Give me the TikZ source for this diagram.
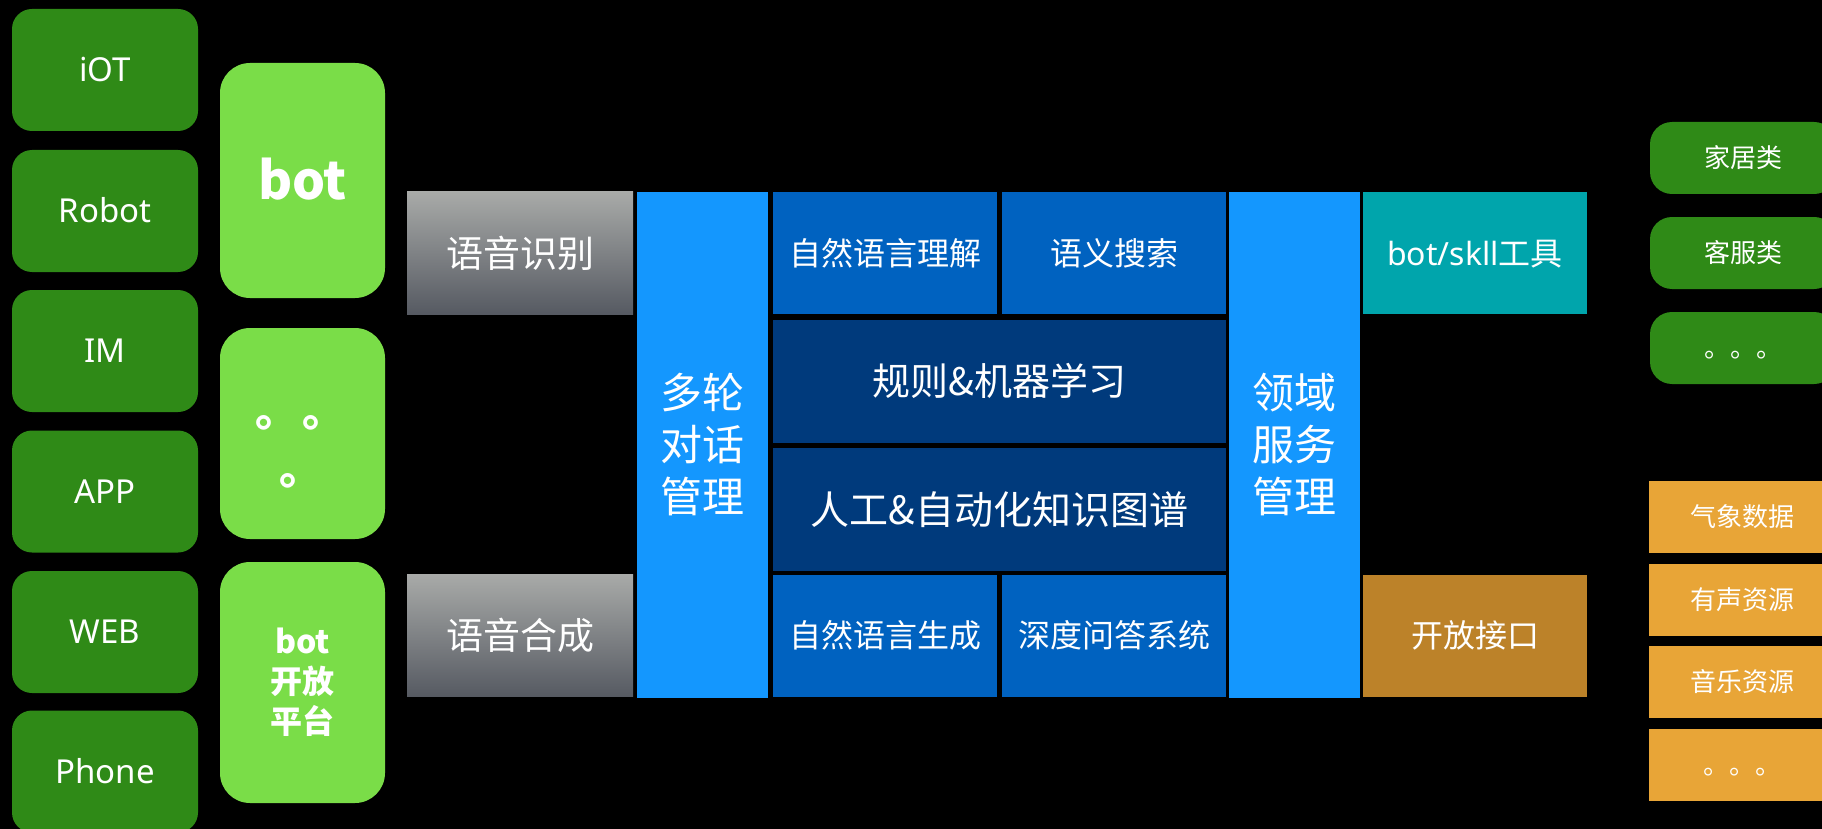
\documentclass[tikz,border=0pt]{standalone}
\usepackage{fontspec}
\setmainfont{Noto Sans CJK SC}
\newfontfamily\latin{Noto Sans}
\definecolor{dkgreen}{HTML}{2F8A17}
\definecolor{lime}{HTML}{7ADD48}
\definecolor{gtop}{HTML}{A8AAA8}
\definecolor{gbot}{HTML}{565A62}
\definecolor{bluelight}{HTML}{1497FE}
\definecolor{bluemid}{HTML}{0062C0}
\definecolor{navy}{HTML}{003A7C}
\definecolor{teal}{HTML}{00A5AC}
\definecolor{brownish}{HTML}{BC8229}
\definecolor{orangebox}{HTML}{E8A537}
\begin{document}
\begin{tikzpicture}[x=1pt,y=-1pt,
  basebox/.style={inner sep=0pt, outer sep=0pt, text=white, align=center},
  devbox/.style={basebox, fill=dkgreen, rounded corners=20pt, minimum width=186pt, minimum height=122pt,
    font=\latin\fontsize{33}{40}\selectfont, text height=23.6pt, text depth=0pt},
  botbox/.style={basebox, fill=lime, rounded corners=30pt, minimum width=165pt},
  speechbox/.style={basebox, top color=gtop, bottom color=gbot, minimum width=226pt, minimum height=122pt,
    font=\fontsize{37}{44}\selectfont, text height=28pt, text depth=0pt},
  tallbox/.style={basebox, fill=bluelight, minimum width=131pt, minimum height=506pt,
    font=\fontsize{42}{52}\selectfont},
  nlpbox/.style={basebox, fill=bluemid, minimum width=224pt, minimum height=122pt,
    font=\fontsize{32}{40}\selectfont, text height=24.3pt, text depth=0pt},
  kbbox/.style={basebox, fill=navy, minimum width=453pt, minimum height=123pt, text depth=0pt},
  toolbox/.style={basebox, minimum width=224pt, minimum height=122pt,
    font=\fontsize{32}{40}\selectfont, text height=24.3pt, text depth=0pt},
  domainbox/.style={basebox, fill=dkgreen, rounded corners=22pt, minimum width=186pt, minimum height=72pt,
    font=\fontsize{26}{32}\selectfont, text height=19.8pt, text depth=0pt},
  resourcebox/.style={basebox, fill=orangebox, minimum width=187pt, minimum height=72pt,
    font=\fontsize{26}{32}\selectfont, text height=19.8pt, text depth=0pt}
]
\useasboundingbox (0,0) rectangle (1822,829);
\fill[black] (0,0) rectangle (1822,829);
\clip (0,0) rectangle (1822,829);

% devices
\node[devbox] (iot) at (105,70) {iOT};
\node[devbox] (robot) at (105,211) {Robot};
\node[devbox] (im) at (105,351) {IM};
\node[devbox] (app) at (105,491.5) {APP};
\node[devbox] (web) at (105,632) {WEB};
\node[devbox] (phone) at (105,771.5) {Phone};

% bot column
\node[botbox, minimum height=235pt, font=\bfseries\fontsize{52}{60}\selectfont,
  text height=39pt, text depth=0pt] (bot) at (302.5,180.5) {bot};
\node[botbox, minimum height=211pt] (etc) at (302.5,433.5) {};
\node[basebox, font=\bfseries\fontsize{44}{58}\selectfont] (etcdots) at (301,452) {。\hspace{4pt}。\\。};
\node[botbox, minimum height=241pt, font=\bfseries\fontsize{32}{40}\selectfont] (plat) at (302.5,682.5)
  {bot\\开放\\平台};

% speech
\node[speechbox] (asr) at (520,253) {语音识别};
\node[speechbox] (tts) at (520,635.5) {语音合成};

% dialogue management
\node[tallbox] (dm) at (702.5,445) {多轮\\对话\\管理};

% NLP core
\node[nlpbox] (nlu) at (885,253) {自然语言理解};
\node[nlpbox] (search) at (1114,253) {语义搜索};
\node[kbbox, font=\fontsize{38}{46}\selectfont, text height=28.9pt] (ml) at (999.5,381.5) {规则\&机器学习};
\node[kbbox, font=\fontsize{39}{46}\selectfont, text height=29.6pt] (kg) at (999.5,509.5) {人工\&自动化知识图谱};
\node[nlpbox] (nlg) at (885,635.5) {自然语言生成};
\node[nlpbox] (qa) at (1114,635.5) {深度问答系统};

% domain service management
\node[tallbox] (ds) at (1294.5,445) {领域\\服务\\管理};

% tools
\node[toolbox, fill=teal] (tool) at (1475,253) {{\latin bot/skll}工具};
\node[toolbox, fill=brownish] (api) at (1475,635.5) {开放接口};

% domains
\node[domainbox] (home) at (1743,158) {家居类};
\node[domainbox] (cs) at (1743,253) {客服类};
\node[domainbox] (more) at (1743,348) {。。。};

% resources
\node[resourcebox] (weather) at (1742.5,517) {气象数据};
\node[resourcebox] (audio) at (1742.5,600) {有声资源};
\node[resourcebox] (music) at (1742.5,682) {音乐资源};
\node[resourcebox] (moreres) at (1742.5,765) {。。。};
\end{tikzpicture}
\end{document}
